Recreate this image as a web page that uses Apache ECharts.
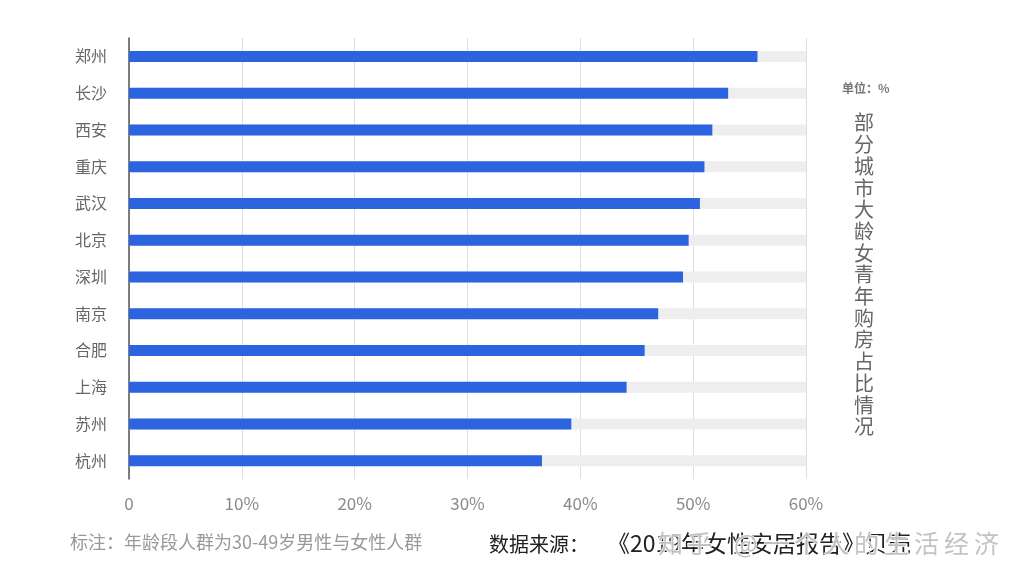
<!DOCTYPE html>
<html><head><meta charset="utf-8">
<script src="https://cdn.jsdelivr.net/npm/echarts@6/dist/echarts.min.js"></script>
<style>html,body{margin:0;padding:0;background:#fff}#c{width:1024px;height:587px}</style>
</head><body><div id="c"></div>
<script>
const cities = ['郑州','长沙','西安','重庆','武汉','北京','深圳','南京','合肥','上海','苏州','杭州'];
const shares = [55.7, 53.1, 51.7, 51.0, 50.6, 49.6, 49.1, 46.9, 45.7, 44.1, 39.2, 36.6];
const xTicks = [0, 10, 20, 30, 40, 50, 60];
const unitText = '单位：%';
const titleText = '部分城市大龄女青年购房占比情况';
const noteText = '标注：年龄段人群为30-49岁男性与女性人群';
const sourceLabel = '数据来源：';
const sourceText = '《2019年女性安居报告》贝壳';
const watermark = ['知','乎','@','一','个','人','的','生','活','经','济'];

const font = '"Noto Sans CJK SC", "Noto Sans", sans-serif';
const wmX = [657, 686, 733, 763, 793, 823, 853, 883, 913, 943, 973];
const wmGraphics = watermark.map((ch, i) => ({
  type: 'text', left: wmX[i], top: 530,
  style: {text: ch, fill: 'rgba(175,175,175,0.75)', fontSize: 25, fontFamily: font,
    stroke: 'rgba(255,255,255,0.85)', lineWidth: 2}
}));

const chart = echarts.init(document.getElementById('c'));
chart.setOption({
  animation: false,
  grid: {left: 129, right: 218, top: 38, bottom: 108},
  xAxis: {
    type: 'value', min: 0, max: 60, interval: 10,
    axisLine: {show: false}, axisTick: {show: false},
    splitLine: {show: true, lineStyle: {color: '#dedede', width: 1}},
    axisLabel: {color: '#8a8a8a', fontSize: 17, fontFamily: font, margin: 16,
      formatter: v => xTicks.includes(v) ? (v === 0 ? '0' : v + '%') : ''}
  },
  yAxis: {
    type: 'category', data: cities, inverse: true,
    axisLine: {show: true, lineStyle: {color: '#555', width: 1.5}},
    axisTick: {show: false},
    axisLabel: {color: '#666', fontSize: 16, fontFamily: font, margin: 22}
  },
  series: [{
    type: 'bar', data: shares, barWidth: 11,
    itemStyle: {color: '#2c64df'},
    showBackground: true,
    backgroundStyle: {color: '#eeeeee'}
  }],
  graphic: [
    {type: 'text', left: 842, top: 82, style: {text: unitText, fill: '#777', fontSize: 12, fontWeight: 'bold', fontFamily: font}},
    {type: 'text', left: 854, top: 112, style: {text: titleText.split('').join('\n'), fill: '#666', fontSize: 20, lineHeight: 21.7, fontFamily: font, align: 'left'}},
    {type: 'text', left: 70, top: 533, style: {text: noteText, fill: '#999', fontSize: 18, fontFamily: font}},
    {type: 'text', left: 489, top: 534, style: {text: sourceLabel, fill: '#222', fontSize: 20, fontFamily: font}},
    {type: 'text', left: 607, top: 532, style: {text: sourceText, fill: '#222', fontSize: 23, fontFamily: font}}
  ].concat(wmGraphics)
});
</script></body></html>
